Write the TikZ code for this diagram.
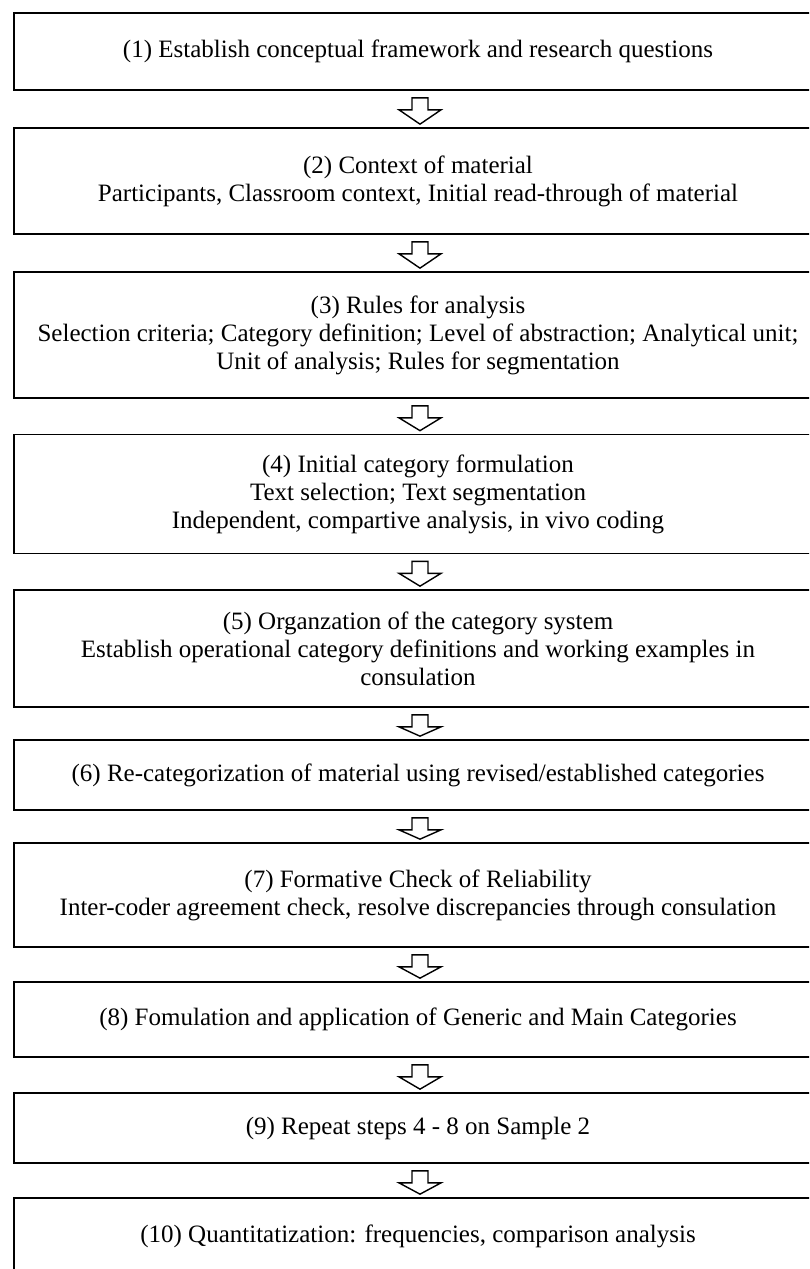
\documentclass[tikz,border=0pt]{standalone}
\usepackage{fontspec}
\setmainfont{Liberation Serif}
\usetikzlibrary{calc}
\tikzset{
  stepbox/.style={draw=black, line width=1.7pt, fill=white, minimum width=808pt,
    inner sep=0pt, align=center, font=\fontsize{25}{28}\selectfont},
  blockarr/.style={draw=black, line width=1.4pt, fill=white, line join=miter}
}
\newcommand{\barrow}[2]{%
  \draw[blockarr] let \p1=(#1.south), \p2=(#2.north) in
    (\x1-6pt,\y1-7pt) -- (\x1+10pt,\y1-7pt) -- (\x1+10pt,\y1-19pt) --
    (\x1+23pt,\y1-19pt) -- (\x1+2pt,\y2+3pt) -- (\x1-19pt,\y1-19pt) --
    (\x1-6pt,\y1-19pt) -- cycle;}
\begin{document}
\begin{tikzpicture}[x=1pt,y=-1pt]
\useasboundingbox (0,0) rectangle (809,1269);
\fill[white] (0,0) rectangle (809,1269);
\clip (0,0) rectangle (809,1269);
\node[stepbox, minimum height=77pt] (b1) at (418,51.5) {(1) Establish conceptual framework and research questions};
\node[stepbox, minimum height=106pt] (b2) at (418,181) {(2) Context of material\\Participants, Classroom context, Initial read-through of material};
\node[stepbox, minimum height=126pt] (b3) at (418,335) {(3) Rules for analysis\\Selection criteria; Category definition; Level of abstraction; Analytical unit;\\Unit of analysis; Rules for segmentation};
\node[stepbox, minimum height=119pt] (b4) at (418,494) {(4) Initial category formulation\\Text selection; Text segmentation\\Independent, compartive analysis, in vivo coding};
\node[stepbox, minimum height=117pt] (b5) at (418,648.5) {(5) Organzation of the category system\\Establish operational category definitions and working examples in\\consulation};
\node[stepbox, minimum height=70pt] (b6) at (418,775) {(6) Re-categorization of material using revised/established categories};
\node[stepbox, minimum height=104pt] (b7) at (418,895) {(7) Formative Check of Reliability\\Inter-coder agreement check, resolve discrepancies through consulation};
\node[stepbox, minimum height=75pt] (b8) at (418,1019.5) {(8) Fomulation and application of Generic and Main Categories};
\node[stepbox, minimum height=70pt] (b9) at (418,1128) {(9) Repeat steps 4 - 8 on Sample 2};
\node[stepbox, minimum height=77pt] (b10) at (418,1236.5) {(10) Quantitatization: frequencies, comparison analysis};
\barrow{b1}{b2}
\barrow{b2}{b3}
\barrow{b3}{b4}
\barrow{b4}{b5}
\barrow{b5}{b6}
\barrow{b6}{b7}
\barrow{b7}{b8}
\barrow{b8}{b9}
\barrow{b9}{b10}
\end{tikzpicture}
\end{document}
